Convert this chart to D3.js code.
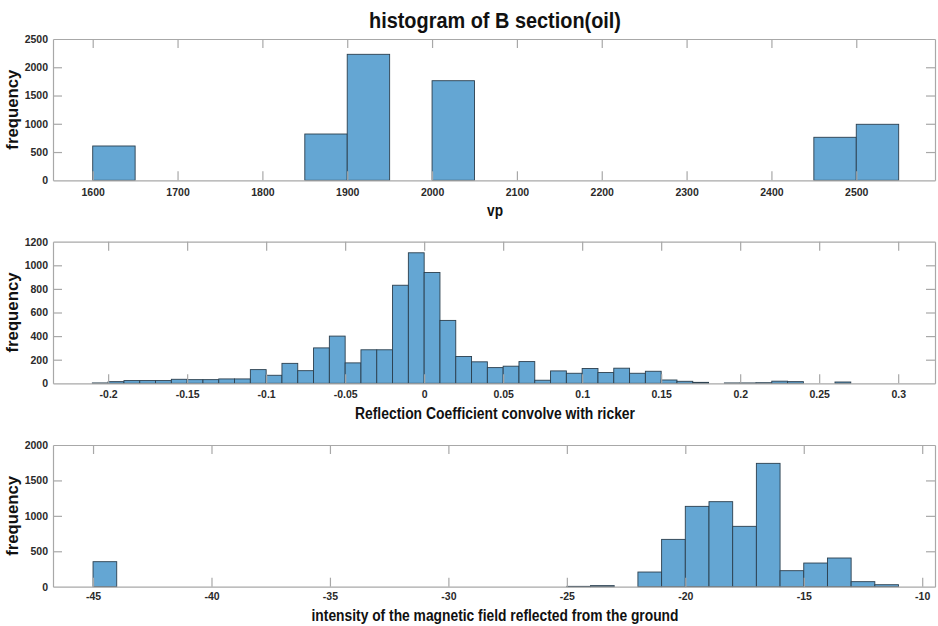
<!DOCTYPE html>
<html>
<head>
<meta charset="utf-8">
<script src="https://cdn.jsdelivr.net/npm/d3@7"></script>
<style>
  html, body { margin: 0; padding: 0; background: #fff; }
  svg { display: block; font-family: "Liberation Sans", Arial, Helvetica, sans-serif; }
</style>
</head>
<body>
<svg id="chart" width="938" height="626"></svg>
<script>
// ---- Data ----
const titleText = "histogram of B section(oil)";
const yLabel = "frequency";

// Panel 1: vp (bin width 50)
const vpBinLeft  = [1600, 1850, 1900, 2000, 2450, 2500];
const vpCounts   = [607, 819, 2229, 1762, 761, 991];
const vpBinWidth = 50;
const vpXTicks   = [1600, 1700, 1800, 1900, 2000, 2100, 2200, 2300, 2400, 2500];
const vpYTicks   = [0, 500, 1000, 1500, 2000, 2500];
const vpXLabel   = "vp";

// Panel 2: reflection coefficient (bin width 0.01)
const rcBinLeft = [-0.21, -0.20, -0.19, -0.18, -0.17, -0.16, -0.15, -0.14, -0.13, -0.12,
                   -0.11, -0.10, -0.09, -0.08, -0.07, -0.06, -0.05, -0.04, -0.03, -0.02,
                   -0.01, 0.00, 0.01, 0.02, 0.03, 0.04, 0.05, 0.06, 0.07, 0.08,
                   0.09, 0.10, 0.11, 0.12, 0.13, 0.14, 0.15, 0.16, 0.17, 0.18,
                   0.19, 0.20, 0.21, 0.22, 0.23, 0.24, 0.25, 0.26];
const rcCounts  = [3, 14, 23, 23, 23, 34, 31, 31, 37, 37,
                   116, 68, 169, 107, 300, 400, 173, 284, 284, 831,
                   1106, 939, 533, 227, 182, 133, 145, 184, 26, 105,
                   85, 125, 91, 128, 85, 102, 28, 17, 8, 0,
                   3, 3, 5, 18, 14, 0, 0, 11];
const rcBinWidth = 0.01;
const rcXTicks  = [-0.2, -0.15, -0.1, -0.05, 0, 0.05, 0.1, 0.15, 0.2, 0.25, 0.3];
const rcYTicks  = [0, 200, 400, 600, 800, 1000, 1200];
const rcXLabel  = "Reflection Coefficient convolve with ricker";

// Panel 3: magnetic field intensity (bin width 1)
const mgBinLeft = [-45, -25, -24, -22, -21, -20, -19, -18, -17, -16, -15, -14, -13, -12];
const mgCounts  = [353, 5, 15, 207, 668, 1134, 1200, 852, 1741, 226, 334, 405, 71, 28];
const mgBinWidth = 1;
const mgXTicks  = [-45, -40, -35, -30, -25, -20, -15, -10];
const mgYTicks  = [0, 500, 1000, 1500, 2000];
const mgXLabel  = "intensity of the magnetic field reflected from the ground";

// ---- Drawing ----
const svg = d3.select("#chart");
const fill = "#64a6d3", edge = "#2b3f4e", axisCol = "#a8a8a8", tickTxt = "#2a2a2a";
const L = 53, R = 935;
const fmt = d => String(d);

svg.append("text")
  .attr("x", 495).attr("y", 28)
  .attr("text-anchor", "middle")
  .attr("font-size", 22).attr("font-weight", "bold").attr("fill", "#111")
  .attr("textLength", 252).attr("lengthAdjust", "spacingAndGlyphs")
  .text(titleText);

function panel(cfg) {
  const x = d3.scaleLinear().domain(cfg.xDomain).range([L, R]);
  const y = d3.scaleLinear().domain(cfg.yDomain).range([cfg.bottom, cfg.top]);
  const g = svg.append("g");

  const bars = cfg.left.map((l, i) => ({ l, c: cfg.counts[i] })).filter(d => d.c > 0);
  g.selectAll("rect.bar").data(bars).enter().append("rect")
    .attr("class", "bar")
    .attr("x", d => x(d.l))
    .attr("width", d => x(d.l + cfg.width) - x(d.l))
    .attr("y", d => y(d.c))
    .attr("height", d => y(0) - y(d.c))
    .attr("fill", fill)
    .attr("stroke", edge).attr("stroke-width", 0.9);

  const tl = 9;
  const xb = d3.axisBottom(x).tickValues(cfg.xTicks).tickSizeInner(-tl).tickSizeOuter(0)
    .tickPadding(cfg.pad).tickFormat(fmt);
  const gx = g.append("g").attr("transform", `translate(0,${cfg.bottom})`).call(xb);
  const xt = d3.axisTop(x).tickValues(cfg.xTicks).tickSizeInner(-tl).tickSizeOuter(0).tickFormat("");
  const gxt = g.append("g").attr("transform", `translate(0,${cfg.top})`).call(xt);
  const yl = d3.axisLeft(y).tickValues(cfg.yTicks).tickSizeInner(-tl).tickSizeOuter(0)
    .tickPadding(5).tickFormat(fmt);
  const gy = g.append("g").attr("transform", `translate(${L},0)`).call(yl);
  const yr = d3.axisRight(y).tickValues(cfg.yTicks).tickSizeInner(-tl).tickSizeOuter(0).tickFormat("");
  const gyr = g.append("g").attr("transform", `translate(${R},0)`).call(yr);

  [gx, gxt, gy, gyr].forEach(a => {
    a.select(".domain").attr("stroke", axisCol).attr("stroke-width", 1.2);
    a.selectAll(".tick line").attr("stroke", axisCol).attr("stroke-width", 1.2);
    a.selectAll(".tick text").attr("fill", tickTxt).attr("font-size", 10.5)
      .attr("font-weight", "bold").attr("font-family", "Liberation Sans, Arial, sans-serif");
  });
  gy.selectAll(".tick line").filter(d => d === cfg.yDomain[0] || d === cfg.yDomain[1]).remove();
  gyr.selectAll(".tick line").filter(d => d === cfg.yDomain[0] || d === cfg.yDomain[1]).remove();

  svg.append("text")
    .attr("transform", `translate(18,${(cfg.top + cfg.bottom) / 2}) rotate(-90)`)
    .attr("text-anchor", "middle")
    .attr("font-size", 17).attr("font-weight", "bold").attr("fill", "#111")
    .attr("textLength", 80).attr("lengthAdjust", "spacingAndGlyphs")
    .text(yLabel);

  svg.append("text")
    .attr("x", 495).attr("y", cfg.labelY)
    .attr("text-anchor", "middle")
    .attr("font-size", 16).attr("font-weight", "bold").attr("fill", "#111")
    .attr("textLength", cfg.labelLen).attr("lengthAdjust", "spacingAndGlyphs")
    .text(cfg.xLabel);
}

panel({ left: vpBinLeft, counts: vpCounts, width: vpBinWidth,
        xDomain: [1553.2, 2592.8], yDomain: [0, 2500], top: 39, bottom: 180.3, pad: 8,
        xTicks: vpXTicks, yTicks: vpYTicks, xLabel: vpXLabel, labelY: 216, labelLen: 16 });

panel({ left: rcBinLeft, counts: rcCounts, width: rcBinWidth,
        xDomain: [-0.2349, 0.3233], yDomain: [0, 1200], top: 241.7, bottom: 383.3, pad: 7,
        xTicks: rcXTicks, yTicks: rcYTicks, xLabel: rcXLabel, labelY: 419, labelLen: 280 });

panel({ left: mgBinLeft, counts: mgCounts, width: mgBinWidth,
        xDomain: [-46.69, -9.46], yDomain: [0, 2000], top: 445, bottom: 586.7, pad: 6,
        xTicks: mgXTicks, yTicks: mgYTicks, xLabel: mgXLabel, labelY: 621, labelLen: 367 });
</script>
</body>
</html>
